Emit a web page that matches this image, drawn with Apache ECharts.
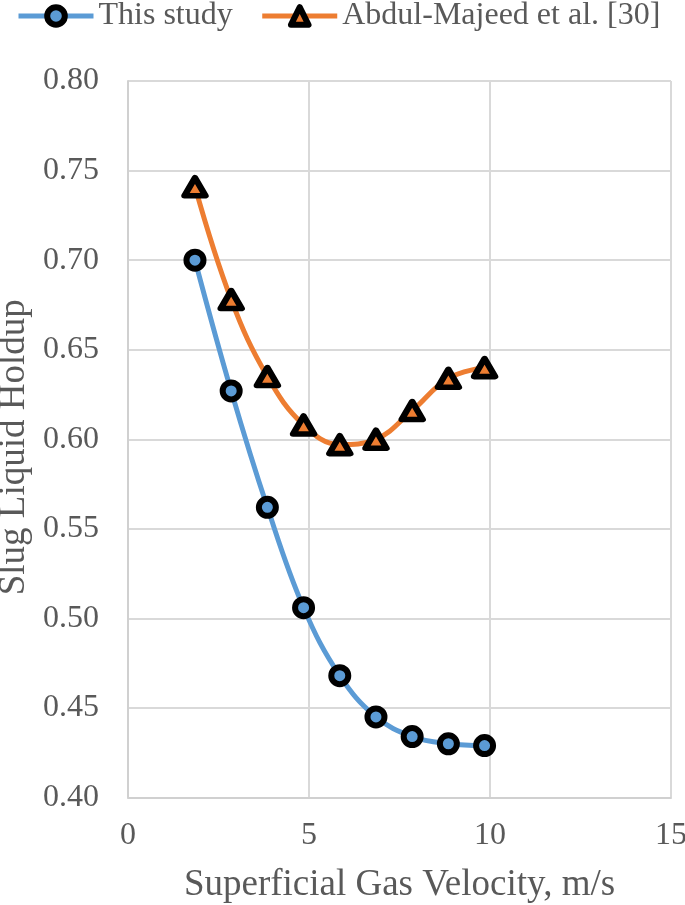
<!DOCTYPE html>
<html>
<head>
<meta charset="utf-8">
<script src="https://cdn.jsdelivr.net/npm/echarts@6/dist/echarts.min.js"></script>
<style>
html,body{margin:0;padding:0;background:#fff;}
#chart{width:685px;height:905px;}
</style>
</head>
<body>
<div id="chart"></div>
<script>
var seriesNames = ['This study', 'Abdul-Majeed et al. [30]'];
var velocity = [1.85, 2.85, 3.85, 4.85, 5.85, 6.85, 7.85, 8.85, 9.85];
var thisStudy = [0.700, 0.627, 0.562, 0.506, 0.468, 0.445, 0.434, 0.430, 0.429];
var abdulMajeed = [0.741, 0.678, 0.635, 0.608, 0.597, 0.600, 0.616, 0.634, 0.640];
var xTicks = [0, 5, 10, 15];
var yTicks = [0.40, 0.45, 0.50, 0.55, 0.60, 0.65, 0.70, 0.75, 0.80];
var xTitle = 'Superficial Gas Velocity, m/s';
var yTitle = 'Slug Liquid Holdup';

function pairs(xs, ys){ return xs.map(function(x,i){ return [x, ys[i]]; }); }

var font = 'Liberation Serif';
var txt = '#595959';
var chart = echarts.init(document.getElementById('chart'), null, {renderer:'canvas'});
chart.setOption({
  animation:false,
  backgroundColor:'#ffffff',
  textStyle:{fontFamily:font},
  grid:{left:128, right:14, top:81, bottom:107.5, containLabel:false, outerBoundsMode:'none'},
  legend:{
    left:16, top:0, padding:0, itemWidth:75, itemHeight:22, itemGap:27,
    lineStyle:{width:'inherit'},
    itemStyle:{borderWidth:6},
    textStyle:{fontFamily:font, fontSize:32, color:txt},
    data:seriesNames
  },
  xAxis:{
    type:'value', min:xTicks[0], max:xTicks[xTicks.length-1], interval:5,
    name:xTitle, nameLocation:'middle', nameGap:69, nameMoveOverlap:false,
    nameTextStyle:{fontFamily:font, fontSize:37, color:txt},
    axisLine:{show:true, lineStyle:{color:'#d0d0d0', width:2}},
    axisTick:{show:false},
    axisLabel:{fontFamily:font, fontSize:32, color:txt, margin:22},
    splitLine:{show:true, lineStyle:{color:'#d9d9d9', width:2}}
  },
  yAxis:{
    type:'value', min:yTicks[0], max:yTicks[yTicks.length-1], interval:0.05,
    name:yTitle, nameLocation:'middle', nameGap:95, nameRotate:90, nameMoveOverlap:false,
    nameTextStyle:{fontFamily:font, fontSize:37, color:txt, padding:[0,16,0,0]},
    axisLine:{show:true, lineStyle:{color:'#d0d0d0', width:2}},
    axisTick:{show:false},
    axisLabel:{fontFamily:font, fontSize:32, color:txt, margin:29,
      formatter:function(v){ return v.toFixed(2); }},
    splitLine:{show:true, lineStyle:{color:'#d9d9d9', width:2}}
  },
  series:[
    {
      name:seriesNames[0], type:'line', smooth:0.4,
      data:pairs(velocity, thisStudy),
      symbol:'circle', symbolSize:17,
      lineStyle:{color:'#5B9BD5', width:5},
      itemStyle:{color:'#5B9BD5', borderColor:'#000000', borderWidth:6},
      z:3
    },
    {
      name:seriesNames[1], type:'line', smooth:0.4,
      data:pairs(velocity, abdulMajeed),
      symbol:'triangle', symbolSize:[21,18],
      lineStyle:{color:'#ED7D31', width:5},
      itemStyle:{color:'#ED7D31', borderColor:'#000000', borderWidth:6, borderJoin:'round'},
      z:3
    }
  ]
});
</script>
</body>
</html>
